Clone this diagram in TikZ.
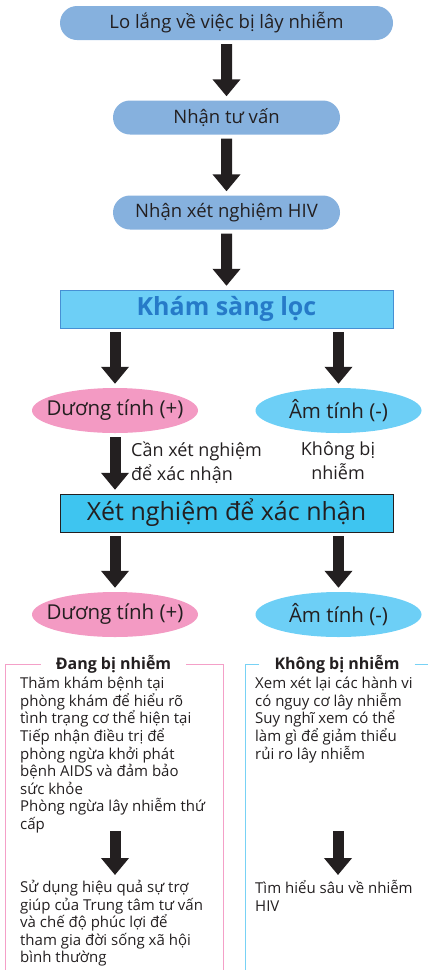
\documentclass[tikz,border=0pt]{standalone}
\usepackage{fontspec}
\setmainfont{Open Sans}
\usetikzlibrary{arrows.meta,shapes.geometric,shapes.misc}

\definecolor{pillblue}{RGB}{134,177,222}
\definecolor{screenfill}{RGB}{109,207,246}
\definecolor{screenline}{RGB}{70,144,212}
\definecolor{screentext}{RGB}{38,122,200}
\definecolor{confirmfill}{RGB}{62,197,240}
\definecolor{pospink}{RGB}{243,154,195}
\definecolor{negblue}{RGB}{109,207,246}
\definecolor{arrowdark}{RGB}{35,31,32}
\definecolor{panelpink}{RGB}{244,160,200}
\definecolor{panelblue}{RGB}{120,210,245}

\newcommand{\fixedtext}[1]{\makebox[0pt]{#1}}

\tikzset{
    pill/.style={rounded rectangle, fill=pillblue, minimum height=34pt, inner sep=0pt,
        text=arrowdark, font=\fontsize{18.5}{22}\selectfont},
    result/.style={ellipse, minimum width=166pt, minimum height=45pt, inner sep=0pt,
        text=arrowdark, font=\fontsize{20.5}{24}\selectfont},
    blockarrow/.style={draw=arrowdark, line width=11pt, -{Triangle[width=27pt,length=17pt]}},
    gap/.style={shorten <=4pt, shorten >=4pt},
    note/.style={inner sep=0pt, align=left, text=arrowdark, font=\fontsize{18}{24}\selectfont},
    body/.style={inner sep=0pt, align=left, anchor=north west, text=arrowdark,
        font=\fontsize{15}{17.6}\selectfont},
    paneltitle/.style={inner xsep=15pt, inner ysep=0pt, text=arrowdark,
        font=\fontsize{16}{19}\bfseries\selectfont},
}

\begin{document}
\begin{tikzpicture}[x=1pt, y=-1pt]
    \useasboundingbox (0,0) rectangle (428,970);

    \node[pill, minimum width=333pt] (worry) at (226.5,23) {Lo lắng về việc bị lây nhiễm};
    \node[pill, minimum width=227pt] (advice) at (226.5,117.5) {Nhận tư vấn};
    \node[pill, minimum width=227pt] (hivtest) at (226.5,212.5) {Nhận xét nghiệm HIV};
    \node[draw=screenline, fill=screenfill, minimum width=333pt, minimum height=38pt, inner sep=0pt,
        text=screentext, font=\fontsize{25}{29}\bfseries\selectfont] (screen) at (226.5,309) {Khám sàng lọc};

    \node[result, fill=pospink] (pos1) at (115,410.5) {\fixedtext{Dương tính (+)}};
    \node[result, fill=negblue] (neg1) at (338.5,410.5) {\fixedtext{Âm tính (-)}};

    \node[note, anchor=north west] (needtest) at (131,442) {Cần xét nghiệm\\để xác nhận};
    \node[note, align=center, anchor=north] (notinf) at (338,442) {Không bị\\nhiễm};

    \node[draw=arrowdark, fill=confirmfill, minimum width=333pt, minimum height=38pt, inner sep=0pt,
        text=arrowdark, font=\fontsize{25}{29}\selectfont] (confirm) at (226.5,513) {Xét nghiệm để xác nhận};

    \node[result, fill=pospink] (pos2) at (115,614.5) {\fixedtext{Dương tính (+)}};
    \node[result, fill=negblue] (neg2) at (338.5,614.5) {\fixedtext{Âm tính (-)}};

    \draw[blockarrow, gap] (worry) -- (advice);
    \draw[blockarrow, gap] (advice) -- (hivtest);
    \draw[blockarrow, gap] (hivtest) -- (screen);
    \draw[blockarrow, gap] (screen.south -| pos1.north) -- (pos1);
    \draw[blockarrow, gap] (screen.south -| neg1.north) -- (neg1);
    \draw[blockarrow, gap] (pos1) -- (confirm.north -| pos1.south);
    \draw[blockarrow, gap] (confirm.south -| pos2.north) -- (pos2);
    \draw[blockarrow, gap] (confirm.south -| neg2.north) -- (neg2);

    % infected panel
    \node[paneltitle] (inftitle) at (113.5,664) {Đang bị nhiễm};
    \draw[panelpink, line width=1pt] (inftitle.west) -- (5,664) -- (5,970);
    \draw[panelpink, line width=1pt] (inftitle.east) -- (223,664) -- (223,970);
    \node[body] (infcare) at (20,677) {Thăm khám bệnh tại\\phòng khám để hiểu rõ\\tình trạng cơ thể hiện tại\\Tiếp nhận điều trị để\\phòng ngừa khởi phát\\bệnh AIDS và đảm bảo\\sức khỏe\\Phòng ngừa lây nhiễm thứ\\cấp};
    \coordinate (infa) at (115,831);
    \coordinate (infb) at (115,875);
    \draw[blockarrow] (infa) -- (infb);
    \node[body] (infsupport) at (20,880) {Sử dụng hiệu quả sự trợ\\giúp của Trung tâm tư vấn\\và chế độ phúc lợi để\\tham gia đời sống xã hội\\bình thường};

    % not infected panel
    \node[paneltitle] (negtitle) at (337,664) {Không bị nhiễm};
    \draw[panelblue, line width=1pt] (negtitle.west) -- (245,664) -- (245,970);
    \draw[panelblue, line width=1pt] (negtitle.east) -- (428,664);
    \node[body] (negreview) at (255,677) {Xem xét lại các hành vi\\có nguy cơ lây nhiễm\\Suy nghĩ xem có thể\\làm gì để giảm thiểu\\rủi ro lây nhiễm};
    \coordinate (nega) at (338,831);
    \coordinate (negb) at (338,875);
    \draw[blockarrow] (nega) -- (negb);
    \node[body] (neglearn) at (255,880) {Tìm hiểu sâu về nhiễm\\HIV};
\end{tikzpicture}
\end{document}
